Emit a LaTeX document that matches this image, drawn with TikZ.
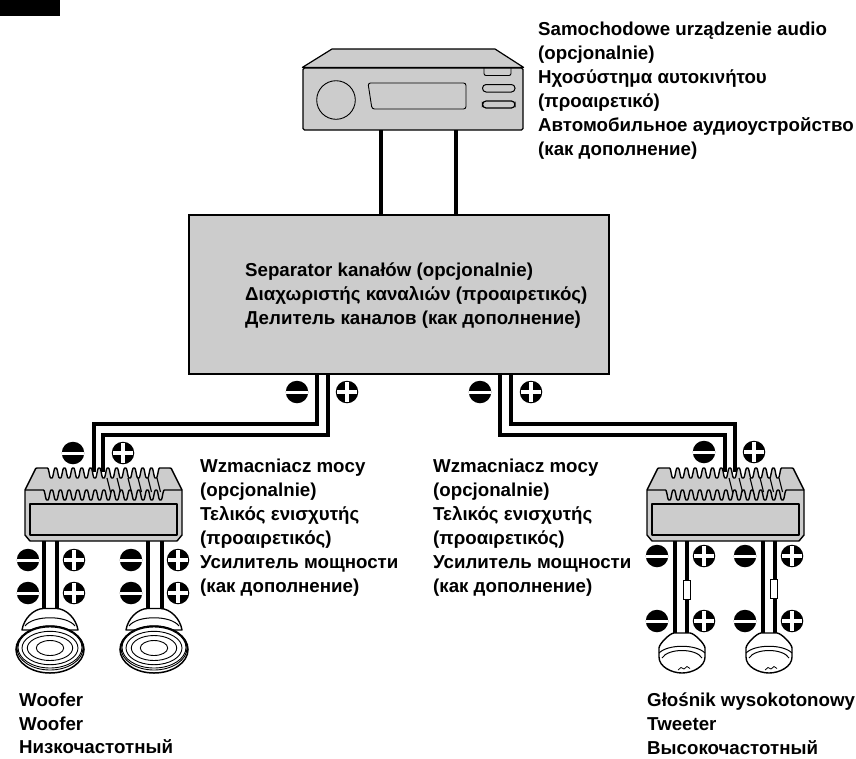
\documentclass[tikz,border=0pt]{standalone}
\usepackage{fontspec}
\setmainfont{Liberation Sans}
\definecolor{bodygrey}{HTML}{CCCCCC}
\newcommand{\fwave}[2]{5+5*(-cos(41.38*(#1-#2)))*(1.5-0.5*cos(41.38*(#1-#2))*cos(41.38*(#1-#2)))}
\tikzset{
  x=1pt,y=-1pt,
  wire/.style={line width=3.4pt,line cap=butt,miter limit=10},
  outline/.style={draw=black,line width=1.4pt,line join=round},
  lab/.style={font=\fontsize{18.7}{24}\bfseries\selectfont,align=left,inner sep=0pt,anchor=north west,text=black},
  labtight/.style={lab,font=\fontsize{18.7}{23.6}\bfseries\selectfont},
  polbase/.style={circle,fill=black,minimum size=22.5pt,inner sep=0pt},
  minussym/.style={polbase,path picture={\draw[white,line width=3pt] (path picture bounding box.west) -- (path picture bounding box.east);}},
  plussym/.style={polbase,path picture={\draw[white,line width=4.2pt] ([xshift=1.2pt]path picture bounding box.west) -- ([xshift=-1.2pt]path picture bounding box.east) ([yshift=-1.2pt]path picture bounding box.north) -- ([yshift=1.2pt]path picture bounding box.south);}},
  pics/amp/.style={code={
    \path[fill=bodygrey] (10,0) -- (147,0) -- (157,22) -- (157,67) -- (152,73) -- (5,73) -- (0,67) -- (0,22) -- cycle;
    \fill[white] (22,-1) -- plot[domain=22:135,samples=200] (\x,{\fwave{\x}{22}}) -- (135,-1) -- cycle;
    \draw[outline] (0,22) -- (10,2) .. controls (10.5,0.5) and (11,0) .. (12,0) -- (20,0) -- plot[domain=22:135,samples=200] (\x,{\fwave{\x}{22}}) -- (145,0) .. controls (146,0) and (146.5,0.5) .. (147,2) -- (157,22);
    \draw[outline] (0,22) -- (18,22) -- plot[domain=18:140,samples=200] (\x,{22+\fwave{\x}{18}}) -- (157,22);
    \draw[outline] (0,22) -- (0,67) -- (5,73) -- (152,73) -- (157,67) -- (157,22);
    \draw[outline] (5,36) rectangle (152,67);
    \foreach \sx in {82,92,103,113,123,132}{\draw[line width=1.1pt] (\sx,10) -- (\sx+3.5,24);}
  }},
  pics/woofer/.style={code={
    \draw[outline,fill=white] (-28,-18) .. controls (-26,-30) and (-16,-39) .. (-7,-39.5) -- (7,-39.5) .. controls (16,-39) and (26,-30) .. (28,-18) -- cycle;
    \draw[line width=1pt] (-25,-22) .. controls (-17,-33) and (17,-33) .. (25,-22);
    \draw[line width=1.5pt,fill=white] (0,1.5) ellipse (34pt and 23.5pt);
    \draw[line width=0.9pt] (0,0) ellipse (33pt and 22pt);
    \draw[line width=0.9pt] (0,-0.5) ellipse (32pt and 20.5pt);
    \draw[line width=0.9pt] (0,0) ellipse (28pt and 16.7pt);
    \draw[line width=0.9pt] (0,0) ellipse (22.7pt and 12.5pt);
    \draw[line width=0.9pt] (0,0) ellipse (13.7pt and 7.5pt);
  }},
  pics/tweeter/.style={code={
    \draw[outline,fill=white] (-23,-5) .. controls (-23,-9) and (-12,-20) .. (-8,-20) -- (8,-20) .. controls (12,-20) and (23,-9) .. (23,-5) -- (23,4) .. controls (23,14) and (10,20) .. (0,20) .. controls (-10,20) and (-23,14) .. (-23,4) -- cycle;
    \draw[line width=1pt] (-23,0) .. controls (-14,-9) and (14,-9) .. (23,0);
    \draw[line width=1pt] (-20,5) .. controls (-14,-5) and (14,-5) .. (20,5);
    \draw[line width=0.8pt] (-4,17) -- (-1,14.5) -- (2,16) -- (5,13.5) -- (8,15.5);
  }},
  resistor/.style={draw=black,fill=white,line width=1pt,minimum width=7.5pt,minimum height=19pt,inner sep=0pt}
}
\begin{document}
\begin{tikzpicture}
\useasboundingbox (0,0) rectangle (856,758);
\fill[black] (0,0) rectangle (60,16);

% head unit
\node[fill=bodygrey,minimum width=220pt,minimum height=62pt,inner sep=0pt,rounded corners=1.5pt,line width=1.2pt,draw=black] (head) at (413,99) {};
\draw[outline,line width=1.2pt,fill=bodygrey] (head.north west) -- (332,49) -- (495,49) -- (head.north east) -- cycle;
\draw[line width=0.9pt] (336,100) circle (19.3pt);
\draw[line width=0.9pt,rounded corners=2.5pt] (368,83) -- (466,83) -- (466,109) -- (372,109) -- cycle;
\draw[line width=0.9pt,rounded corners=2pt] (484,68) -- (484,75.5) -- (511,75.5) -- (511,68);
\draw[line width=1pt,fill=bodygrey,rounded corners=3.6pt] (482.5,84.5) rectangle (515,92);
\draw[line width=1.2pt,fill=bodygrey,rounded corners=3.6pt] (482.5,101) rectangle (515,108);

% separator
\node[fill=bodygrey,draw=black,line width=1.2pt,minimum width=420pt,minimum height=159pt,inner sep=0pt] (sep) at (399,294.5) {};

% wires head to separator
\coordinate (hl) at (381,130); \coordinate (hr) at (456,130);
\draw[wire] (hl) -- (hl |- sep.north);
\draw[wire] (hr) -- (hr |- sep.north);

% left / right amplifiers
\pic at (25,468) {amp};
\pic at (647,468) {amp};
\coordinate (ampLa) at (94,472); \coordinate (ampLb) at (103,472);
\coordinate (ampRa) at (725,472); \coordinate (ampRb) at (735,472);
\coordinate (sa) at (317,374); \coordinate (sb) at (328,374);
\coordinate (sc) at (500,374); \coordinate (sd) at (511,374);
\draw[wire] (sa) -- (317,424) -- (94,424) -- (ampLa);
\draw[wire] (sb) -- (328,435) -- (103,435) -- (ampLb);
\draw[wire] (sc) -- (500,435) -- (725,435) -- (ampRa);
\draw[wire] (sd) -- (511,424) -- (735,424) -- (ampRb);

% woofers
\pic at (50,648) {woofer};
\pic at (154,648) {woofer};
\coordinate (w1a) at (44,541); \coordinate (w1b) at (57,541);
\coordinate (w2a) at (148,541); \coordinate (w2b) at (162,541);
\draw[wire] (w1a) -- (44,609); \draw[wire] (w1b) -- (57,609);
\draw[wire] (w2a) -- (148,609); \draw[wire] (w2b) -- (162,609);

% tweeters
\pic at (682,653) {tweeter};
\pic at (769,653) {tweeter};
\coordinate (t1a) at (675,541); \coordinate (t1b) at (687,541);
\coordinate (t2a) at (763,541); \coordinate (t2b) at (775,541);
\draw[wire] (t1a) -- (675,633); \draw[wire] (t1b) -- (687,633);
\draw[wire] (t2a) -- (763,633); \draw[wire] (t2b) -- (775,633);
\node[resistor] (r1) at (687,589.5) {};
\node[resistor] (r2) at (774,589) {};

% polarity marks
\node[minussym] (m1) at (297,392) {}; \node[plussym] (p1) at (347,392) {};
\node[minussym] (m2) at (480,392) {}; \node[plussym] (p2) at (531,392) {};
\node[minussym] (m3) at (73,453) {}; \node[plussym] (p3) at (123,453) {};
\node[minussym] (m4) at (704,452) {}; \node[plussym] (p4) at (754,452) {};
\node[minussym] (m5) at (28,560) {}; \node[plussym] (p5) at (74,560) {};
\node[minussym] (m6) at (131,560) {}; \node[plussym] (p6) at (178,560) {};
\node[minussym] (m7) at (28,593) {}; \node[plussym] (p7) at (74,593) {};
\node[minussym] (m8) at (131,593) {}; \node[plussym] (p8) at (178,593) {};
\node[minussym] (m9) at (657,556) {}; \node[plussym] (p9) at (704,556) {};
\node[minussym] (m10) at (745,556) {}; \node[plussym] (p10) at (792,556) {};
\node[minussym] (m11) at (657,621) {}; \node[plussym] (p11) at (704,621) {};
\node[minussym] (m12) at (745,621) {}; \node[plussym] (p12) at (792,621) {};

% labels
\node[lab] (t1) at (538,22) {Samochodowe urządzenie audio\\(opcjonalnie)\\Ηχοσύστημα αυτοκινήτου\\(προαιρετικό)\\Автомобильное аудиоустройство\\(как дополнение)};
\node[lab] (t2) at (245,263) {Separator kanałów (opcjonalnie)\\Διαχωριστής καναλιών (προαιρετικός)\\Делитель каналов (как дополнение)};
\node[lab] (t3) at (200,459) {Wzmacniacz mocy\\(opcjonalnie)\\Τελικός ενισχυτής\\(προαιρετικός)\\Усилитель мощности\\(как дополнение)};
\node[lab] (t4) at (433,459) {Wzmacniacz mocy\\(opcjonalnie)\\Τελικός ενισχυτής\\(προαιρετικός)\\Усилитель мощности\\(как дополнение)};
\node[labtight] (t5) at (19,693) {Woofer\\Woofer\\Низкочастотный};
\node[labtight] (t6) at (647,693) {Głośnik wysokotonowy\\Tweeter\\Высокочастотный};
\end{tikzpicture}
\end{document}
